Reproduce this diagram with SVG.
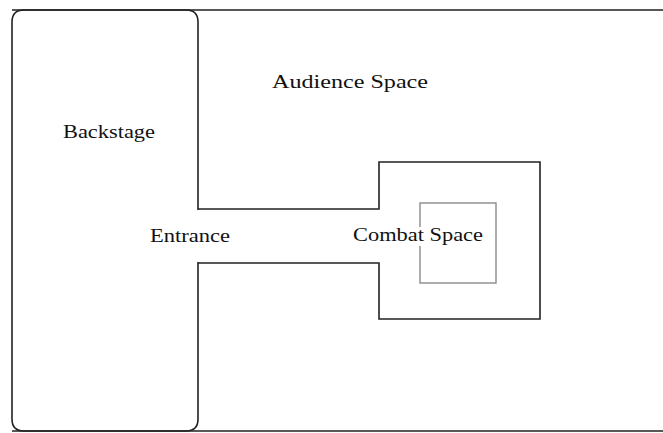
<svg xmlns="http://www.w3.org/2000/svg" width="663" height="433" viewBox="0 0 663 433">
<style>
.ln{fill:none;stroke:#222;stroke-width:1.6}
.gr{fill:none;stroke:#8a8a8a;stroke-width:1.4}
.t{font-family:"Liberation Serif","Times New Roman",serif;font-size:19px;fill:#111}
</style>
<rect width="663" height="433" fill="#fff"/>
<g id="audience">
<path class="ln" d="M12,10 H665 M12,431 H665"/>
<text class="t" x="272" y="88" textLength="156" lengthAdjust="spacingAndGlyphs">Audience Space</text>
</g>
<g id="backstage">
<path class="ln" d="M198,210 V22 Q198,10 186,10 H24 Q12,10 12,22 V419 Q12,431 24,431 H186 Q198,431 198,419 V262"/>
<text class="t" x="63" y="138" textLength="92" lengthAdjust="spacingAndGlyphs">Backstage</text>
</g>
<g id="entrance">
<text class="t" x="150" y="242" textLength="80" lengthAdjust="spacingAndGlyphs">Entrance</text>
</g>
<g id="combat-area">
<path class="ln" d="M198,209 H379 V162 H540 V319 H379 V263 H198"/>
</g>
<g id="combat-space">
<rect class="gr" x="420" y="203" width="76" height="80"/>
<rect x="412" y="227" width="14" height="19" fill="#fff"/>
<text class="t" x="353" y="241" textLength="130" lengthAdjust="spacingAndGlyphs">Combat Space</text>
</g>
<g id="connectors"/>
</svg>
